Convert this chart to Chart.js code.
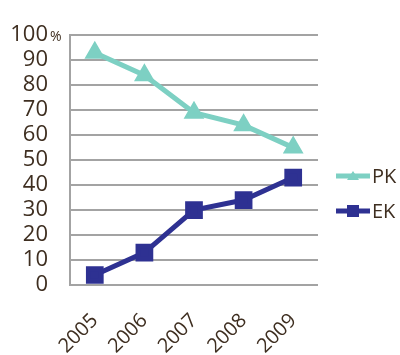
<!DOCTYPE html>
<html><head><meta charset="utf-8">
<script src="https://cdn.jsdelivr.net/npm/chart.js@4/dist/chart.umd.min.js"></script>
<style>html,body{margin:0;padding:0;background:#fff;}#wrap{width:400px;height:355px;position:relative;}</style>
</head><body><div id="wrap"><canvas id="c" width="400" height="355"></canvas></div>
<script>
const categories = ['2005','2006','2007','2008','2009'];
const pkValues = [93, 84, 69, 64, 55];
const ekValues = [4, 13, 30, 34, 43];
const seriesNames = ['PK', 'EK'];
const yTicks = [0,10,20,30,40,50,60,70,80,90,100];

const PK_COLOR = '#7dd0c3';
const EK_COLOR = '#2e3192';
const TEXT = '#3e2e20';
const GRID = '#a3a3a3';
const FONT = "'Open Sans', sans-serif";

const legendPlugin = {
  id: 'customLegend',
  afterDraw(chart) {
    const ctx = chart.ctx;
    const items = [
      {name: seriesNames[0], color: PK_COLOR, style: 'triangle', y: 176},
      {name: seriesNames[1], color: EK_COLOR, style: 'rect', y: 211}
    ];
    ctx.save();
    items.forEach(it => {
      ctx.strokeStyle = it.color; ctx.fillStyle = it.color; ctx.lineWidth = 5;
      ctx.beginPath(); ctx.moveTo(336, it.y); ctx.lineTo(370, it.y); ctx.stroke();
      ctx.beginPath();
      if (it.style === 'triangle') {
        ctx.moveTo(353, it.y - 5); ctx.lineTo(359, it.y + 4); ctx.lineTo(347, it.y + 4); ctx.closePath();
      } else {
        ctx.rect(347, it.y - 6, 12, 12);
      }
      ctx.fill();
      ctx.fillStyle = TEXT; ctx.font = "20px " + FONT; ctx.textBaseline = 'middle'; ctx.textAlign = 'left';
      ctx.fillText(it.name, 372, it.y + 1);
    });
    const ys = chart.scales.y;
    const py = ys.getPixelForValue(100);
    ctx.fillStyle = TEXT; ctx.font = "14px " + FONT; ctx.textAlign = 'left'; ctx.textBaseline = 'alphabetic';
    ctx.fillText('%', 50, py + 6);
    ctx.restore();
  }
};

new Chart(document.getElementById('c'), {
  type: 'line',
  data: {
    labels: categories,
    datasets: [
      {label: seriesNames[0], data: pkValues, borderColor: PK_COLOR, backgroundColor: PK_COLOR, borderWidth: 5,
       pointStyle: 'triangle', pointRadius: 7, pointHoverRadius: 7, tension: 0},
      {label: seriesNames[1], data: ekValues, borderColor: EK_COLOR, backgroundColor: EK_COLOR, borderWidth: 5,
       pointStyle: 'rect', pointRadius: 9, pointHoverRadius: 9, tension: 0}
    ]
  },
  options: {
    responsive: false, animation: false,
    layout: {padding: {top: 18, right: 82, left: 0, bottom: 0}},
    plugins: {legend: {display: false}, tooltip: {enabled: false}},
    scales: {
      x: {
        offset: true,
        grid: {display: false, drawTicks: false},
        border: {display: false},
        ticks: {color: TEXT, font: {family: FONT, size: 20}, maxRotation: 45, minRotation: 45, padding: 24, autoSkip: false},
        afterFit(s) { s.height = 70; }
      },
      y: {
        min: 0, max: 100,
        afterBuildTicks(s) { s.ticks = yTicks.map(v => ({value: v})); },
        grid: {color: GRID, lineWidth: 2, drawTicks: false},
        border: {display: true, color: GRID, width: 2},
        ticks: {color: TEXT, font: {family: FONT, size: 22}, padding: 22, autoSkip: false},
        afterFit(s) { s.width = 70; }
      }
    }
  },
  plugins: [legendPlugin]
});
</script></body></html>
